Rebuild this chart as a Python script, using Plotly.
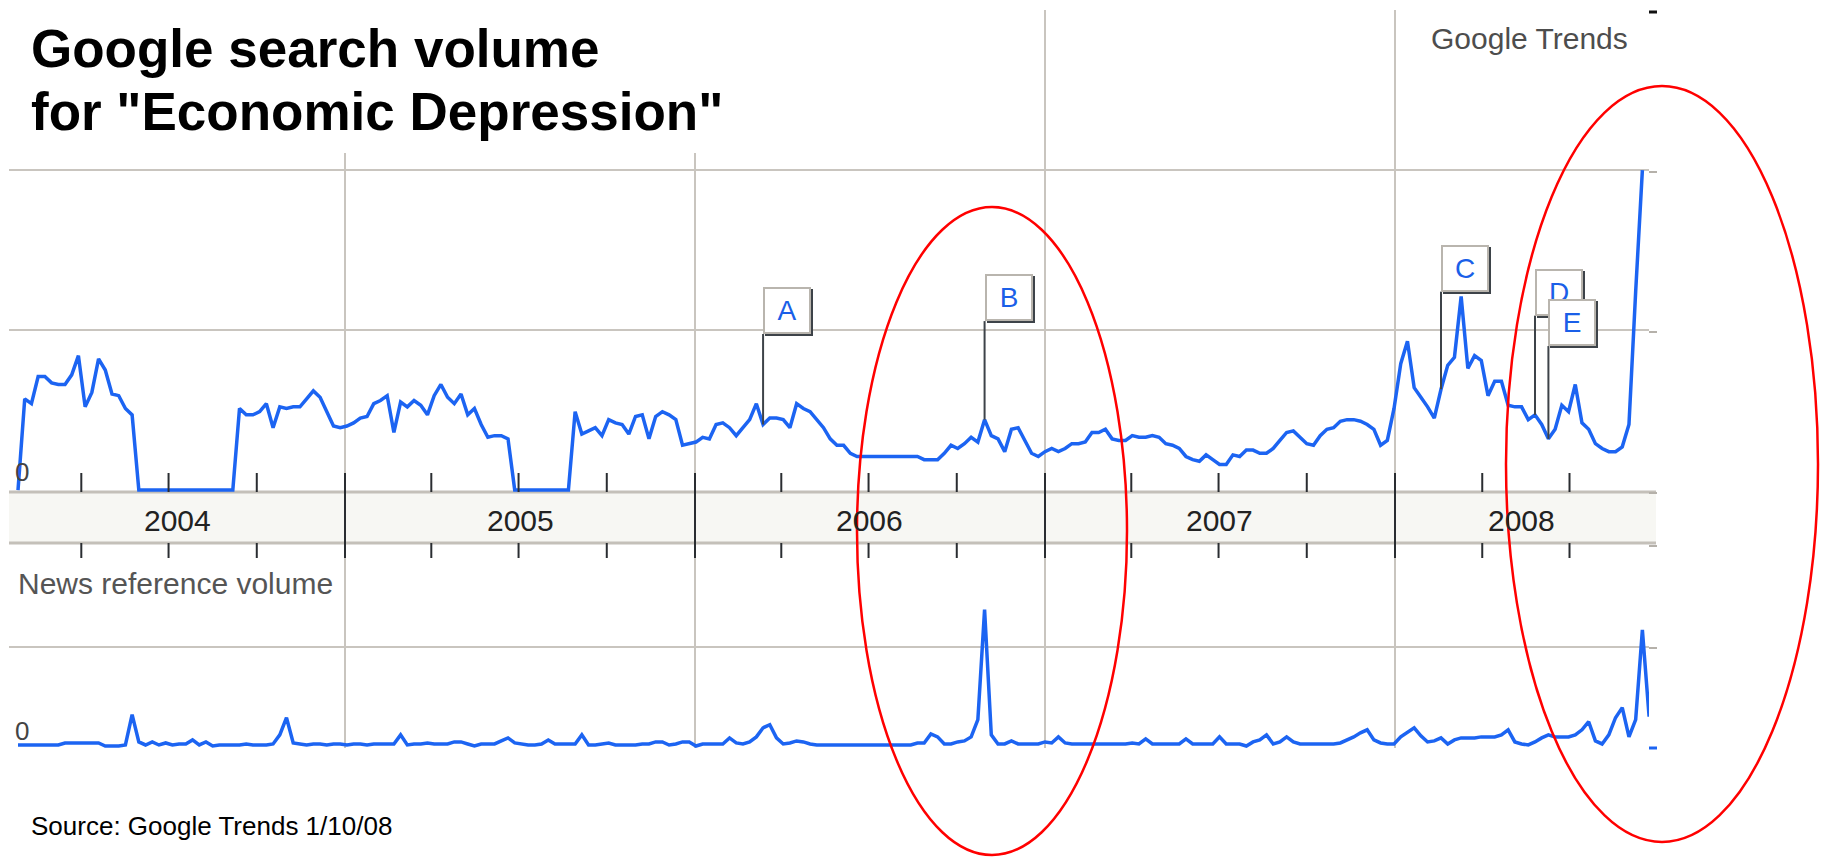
import pandas as pd
import plotly.graph_objects as go

# ---------------- data ----------------
search_start = "2004-01-26"   # weekly series
news_start = "2004-01-26"

search_volume = [
    0.00, 0.57, 0.54, 0.71, 0.71, 0.67, 0.66, 0.66, 0.72, 0.84,
    0.52, 0.61, 0.82, 0.75, 0.60, 0.59, 0.51, 0.47, 0.00, 0.00,
    0.00, 0.00, 0.00, 0.00, 0.00, 0.00, 0.00, 0.00, 0.00, 0.00,
    0.00, 0.00, 0.00, 0.51, 0.47, 0.47, 0.49, 0.54, 0.39, 0.52,
    0.51, 0.52, 0.52, 0.57, 0.62, 0.58, 0.49, 0.40, 0.39, 0.40,
    0.42, 0.45, 0.46, 0.54, 0.56, 0.59, 0.36, 0.55, 0.52, 0.56,
    0.53, 0.47, 0.59, 0.66, 0.58, 0.54, 0.60, 0.47, 0.51, 0.41,
    0.33, 0.34, 0.34, 0.32, 0.00, 0.00, 0.00, 0.00, 0.00, 0.00,
    0.00, 0.00, 0.00, 0.49, 0.35, 0.37, 0.39, 0.34, 0.44, 0.42,
    0.41, 0.35, 0.46, 0.47, 0.32, 0.46, 0.49, 0.47, 0.44, 0.28,
    0.29, 0.30, 0.33, 0.32, 0.41, 0.42, 0.39, 0.34, 0.39, 0.44,
    0.54, 0.41, 0.45, 0.45, 0.44, 0.39, 0.54, 0.51, 0.49, 0.44,
    0.39, 0.32, 0.28, 0.28, 0.23, 0.21, 0.21, 0.21, 0.21, 0.21,
    0.21, 0.21, 0.21, 0.21, 0.21, 0.19, 0.19, 0.19, 0.23, 0.28,
    0.26, 0.29, 0.33, 0.30, 0.44, 0.34, 0.32, 0.24, 0.38, 0.39,
    0.31, 0.23, 0.21, 0.24, 0.26, 0.24, 0.26, 0.29, 0.29, 0.30,
    0.36, 0.36, 0.38, 0.32, 0.31, 0.31, 0.34, 0.33, 0.33, 0.34,
    0.33, 0.29, 0.28, 0.26, 0.21, 0.19, 0.18, 0.22, 0.19, 0.16,
    0.16, 0.22, 0.21, 0.25, 0.25, 0.23, 0.23, 0.26, 0.31, 0.36,
    0.37, 0.33, 0.29, 0.28, 0.34, 0.38, 0.39, 0.43, 0.44, 0.44,
    0.43, 0.41, 0.38, 0.28, 0.31, 0.51, 0.79, 0.93, 0.64, 0.58,
    0.52, 0.45, 0.63, 0.78, 0.83, 1.21, 0.76, 0.84, 0.81, 0.59,
    0.68, 0.68, 0.53, 0.52, 0.52, 0.44, 0.47, 0.41, 0.32, 0.38,
    0.53, 0.49, 0.66, 0.42, 0.38, 0.29, 0.26, 0.24, 0.24, 0.27,
    0.41, 1.24, 2.00,
]

news_volume = [
    0.03, 0.03, 0.03, 0.03, 0.03, 0.03, 0.03, 0.05, 0.05, 0.05,
    0.05, 0.05, 0.05, 0.02, 0.02, 0.02, 0.03, 0.33, 0.06, 0.03,
    0.06, 0.03, 0.05, 0.03, 0.04, 0.04, 0.08, 0.03, 0.06, 0.02,
    0.03, 0.03, 0.03, 0.03, 0.04, 0.03, 0.03, 0.03, 0.04, 0.13,
    0.30, 0.05, 0.04, 0.03, 0.04, 0.04, 0.03, 0.04, 0.04, 0.03,
    0.04, 0.04, 0.03, 0.04, 0.04, 0.04, 0.04, 0.13, 0.03, 0.04,
    0.04, 0.05, 0.04, 0.04, 0.04, 0.06, 0.06, 0.04, 0.02, 0.04,
    0.04, 0.04, 0.07, 0.10, 0.05, 0.04, 0.03, 0.03, 0.04, 0.08,
    0.04, 0.04, 0.04, 0.04, 0.13, 0.03, 0.03, 0.04, 0.05, 0.03,
    0.03, 0.03, 0.03, 0.04, 0.04, 0.06, 0.06, 0.03, 0.04, 0.06,
    0.06, 0.02, 0.04, 0.04, 0.04, 0.04, 0.10, 0.05, 0.04, 0.06,
    0.11, 0.20, 0.23, 0.10, 0.04, 0.05, 0.07, 0.06, 0.04, 0.03,
    0.03, 0.03, 0.03, 0.03, 0.03, 0.03, 0.03, 0.03, 0.03, 0.03,
    0.03, 0.03, 0.03, 0.03, 0.05, 0.05, 0.14, 0.11, 0.04, 0.04,
    0.06, 0.07, 0.11, 0.28, 1.37, 0.13, 0.04, 0.04, 0.07, 0.04,
    0.04, 0.04, 0.04, 0.06, 0.05, 0.11, 0.05, 0.04, 0.04, 0.04,
    0.04, 0.04, 0.04, 0.04, 0.04, 0.04, 0.05, 0.04, 0.09, 0.04,
    0.04, 0.04, 0.04, 0.04, 0.09, 0.04, 0.04, 0.04, 0.04, 0.11,
    0.04, 0.04, 0.04, 0.02, 0.06, 0.08, 0.13, 0.04, 0.06, 0.11,
    0.06, 0.04, 0.04, 0.04, 0.04, 0.04, 0.04, 0.05, 0.08, 0.11,
    0.15, 0.18, 0.08, 0.05, 0.04, 0.04, 0.11, 0.15, 0.20, 0.12,
    0.06, 0.07, 0.10, 0.04, 0.08, 0.10, 0.10, 0.10, 0.11, 0.11,
    0.11, 0.13, 0.18, 0.06, 0.04, 0.03, 0.06, 0.10, 0.13, 0.11,
    0.11, 0.11, 0.13, 0.18, 0.26, 0.07, 0.04, 0.13, 0.30, 0.40,
    0.11, 0.28, 1.17, 0.31,
]

year_labels = ["2004", "2005", "2006", "2007", "2008"]
event_labels = ["A", "B", "C", "D", "E"]
event_dates = ["2006-03-13", "2006-10-30", "2008-02-18", "2008-05-26", "2008-06-09"]

title_lines = ["Google search volume", "for \"Economic Depression\""]
brand_text = "Google Trends"
news_title = "News reference volume"
source_text = "Source: Google Trends 1/10/08"

# ---------------- build series ----------------
search = pd.Series(search_volume,
                   index=pd.date_range(search_start, periods=len(search_volume), freq="7D"))
news = pd.Series(news_volume,
                 index=pd.date_range(news_start, periods=len(news_volume), freq="7D"))

# ---------------- styling / layout helpers ----------------
W, H = 1821, 857
BLUE = "#1c64f2"
GRID = "#c9c5bf"
DARK = "#2a2d31"
FONT = "Liberation Sans, Arial, sans-serif"


def px(x):
    return x / W


def py(y):
    return 1 - y / H


x0_date = pd.Timestamp("2005-01-01") - pd.Timedelta(days=350.4)
x1_date = pd.Timestamp("2008-01-01") + pd.Timedelta(days=264.9)
x_range = [x0_date.isoformat(), x1_date.isoformat()]
year_starts = [pd.Timestamp(f"{y}-01-01") for y in range(2005, 2009)]

fig = go.Figure()
fig.add_trace(go.Scatter(x=search.index, y=search.values, mode="lines",
                         line=dict(color=BLUE, width=3.5), xaxis="x", yaxis="y",
                         hoverinfo="skip"))
fig.add_trace(go.Scatter(x=news.index, y=news.values, mode="lines",
                         line=dict(color=BLUE, width=3.5), xaxis="x2", yaxis="y2",
                         hoverinfo="skip"))

xcommon = dict(type="date", range=x_range, domain=[px(9), px(1649)],
               tickvals=year_starts, showgrid=True, gridcolor=GRID, gridwidth=2,
               showticklabels=False, ticks="", zeroline=False, showline=False,
               fixedrange=True)

fig.update_layout(
    width=W, height=H,
    margin=dict(l=0, r=0, t=0, b=0),
    paper_bgcolor="white", plot_bgcolor="white",
    showlegend=False,
    xaxis=dict(anchor="y", **xcommon),
    xaxis2=dict(anchor="y2", **xcommon),
    yaxis=dict(anchor="x", domain=[py(492), py(10)], range=[-0.012, 3.0],
               tickvals=[1, 2], showgrid=True, gridcolor=GRID, gridwidth=2,
               showticklabels=False, zeroline=False, ticks="", fixedrange=True),
    yaxis2=dict(anchor="x2", domain=[py(748), py(558)], range=[0, 190 / 101],
                tickvals=[1], showgrid=True, gridcolor=GRID, gridwidth=2,
                showticklabels=False, zeroline=False, ticks="", fixedrange=True),
)

shapes = []
# white block behind the title (hides gridlines there)
shapes.append(dict(type="rect", xref="paper", yref="paper", x0=0, x1=px(760),
                   y0=py(153), y1=1, fillcolor="white", line=dict(width=0),
                   layer="above"))
# date band
shapes.append(dict(type="rect", xref="paper", yref="paper", x0=px(9), x1=px(1656),
                   y0=py(543), y1=py(492), fillcolor="#f7f7f3", line=dict(width=0),
                   layer="below"))
for yb in (492, 543):
    shapes.append(dict(type="line", xref="paper", yref="paper", x0=px(9), x1=px(1656),
                       y0=py(yb), y1=py(yb), line=dict(color="#c4c0b9", width=3),
                       layer="below"))

# quarter ticks and year separators
for yr in range(2004, 2009):
    for m in (1, 4, 7, 10):
        d = pd.Timestamp(f"{yr}-{m:02d}-01")
        if d <= x0_date or d >= x1_date:
            continue
        ds = d.isoformat()
        if m == 1:
            shapes.append(dict(type="line", xref="x", yref="paper", x0=ds, x1=ds,
                               y0=py(558), y1=py(473), line=dict(color=DARK, width=2),
                               layer="above"))
        else:
            for a, b in ((473, 492), (543, 558)):
                shapes.append(dict(type="line", xref="x", yref="paper", x0=ds, x1=ds,
                                   y0=py(b), y1=py(a), line=dict(color=DARK, width=2),
                                   layer="above"))

# small right-hand tick dashes
for yy, col, wd in ((12, "#111111", 3), (172, "#b5b1aa", 2), (332, "#b5b1aa", 2),
                    (493, "#b5b1aa", 2), (546, "#b5b1aa", 2), (648, "#b5b1aa", 2),
                    (748, BLUE, 3)):
    shapes.append(dict(type="line", xref="paper", yref="paper", x0=px(1649), x1=px(1657),
                       y0=py(yy), y1=py(yy), line=dict(color=col, width=wd)))

# event markers: stick from the data point up to the label box
box_bottoms = [0.975, 1.056, 1.24, 1.09, 0.90]
annotations = []
for lab, ds, bb in zip(event_labels, event_dates, box_bottoms):
    val = float(search.loc[pd.Timestamp(ds)])
    shapes.append(dict(type="line", xref="x", yref="y", x0=ds, x1=ds, y0=val, y1=bb,
                       line=dict(color="#3d4349", width=2), layer="above"))

for lab, ds, bb in zip(event_labels, event_dates, box_bottoms):
    # shadow
    annotations.append(dict(x=ds, y=bb, xref="x", yref="y", xanchor="left",
                            yanchor="bottom", text=" ", showarrow=False,
                            width=44, height=43, borderpad=0, borderwidth=2,
                            bgcolor="#3d4349", bordercolor="#3d4349",
                            xshift=2, yshift=-2, font=dict(size=10)))
    annotations.append(dict(x=ds, y=bb, xref="x", yref="y", xanchor="left",
                            yanchor="bottom", text=lab, showarrow=False,
                            width=44, height=43, borderpad=0, borderwidth=2,
                            bgcolor="white", bordercolor="#b9b5ae",
                            align="center", valign="middle",
                            font=dict(family=FONT, size=28, color="#1a5fe8")))

# red ellipses
shapes.append(dict(type="circle", xref="paper", yref="paper", x0=px(857), x1=px(1127),
                   y0=py(855), y1=py(207), line=dict(color="#ff0000", width=2.5),
                   layer="above"))
shapes.append(dict(type="circle", xref="paper", yref="paper", x0=px(1506), x1=px(1818),
                   y0=py(842), y1=py(86), line=dict(color="#ff0000", width=2.5),
                   layer="above"))

# year labels centred in the visible part of each year
for lab in year_labels:
    a = max(pd.Timestamp(f"{lab}-01-01"), x0_date)
    b = min(pd.Timestamp(f"{int(lab) + 1}-01-01"), x1_date)
    mid = a + (b - a) / 2
    annotations.append(dict(x=mid.isoformat(), y=py(520), xref="x", yref="paper",
                            text=lab, showarrow=False, xanchor="center", yanchor="middle",
                            font=dict(family=FONT, size=30, color="#222222")))

# titles and other texts
annotations.append(dict(x=px(29), y=py(49), xref="paper", yref="paper", text=title_lines[0],
                        showarrow=False, xanchor="left", yanchor="middle",
                        font=dict(family=FONT, size=53, color="black", weight="bold")))
annotations.append(dict(x=px(29), y=py(112), xref="paper", yref="paper", text=title_lines[1],
                        showarrow=False, xanchor="left", yanchor="middle",
                        font=dict(family=FONT, size=53, color="black", weight="bold")))
annotations.append(dict(x=px(1429), y=py(39), xref="paper", yref="paper", text=brand_text,
                        showarrow=False, xanchor="left", yanchor="middle",
                        font=dict(family=FONT, size=30, color="#4d4d4d")))
annotations.append(dict(x=px(16), y=py(583), xref="paper", yref="paper", text=news_title,
                        showarrow=False, xanchor="left", yanchor="middle",
                        font=dict(family=FONT, size=30, color="#555555")))
annotations.append(dict(x=px(22), y=py(472), xref="paper", yref="paper", text="0",
                        showarrow=False, xanchor="center", yanchor="middle",
                        font=dict(family=FONT, size=26, color="#444444")))
annotations.append(dict(x=px(22), y=py(731), xref="paper", yref="paper", text="0",
                        showarrow=False, xanchor="center", yanchor="middle",
                        font=dict(family=FONT, size=26, color="#444444")))
annotations.append(dict(x=px(29), y=py(826), xref="paper", yref="paper", text=source_text,
                        showarrow=False, xanchor="left", yanchor="middle",
                        font=dict(family=FONT, size=26, color="black")))

fig.update_layout(shapes=shapes, annotations=annotations)

fig.write_html("out.html", config={"displayModeBar": False},
               post_script="document.body.style.margin='0';")
